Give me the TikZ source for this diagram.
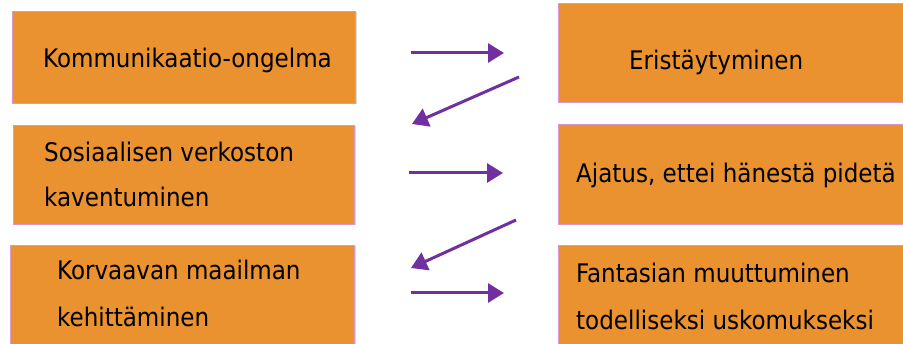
\documentclass[tikz,border=0pt]{standalone}
\usepackage{fontspec}
\setmainfont{DejaVu Sans Condensed}
\usetikzlibrary{arrows.meta}
\definecolor{boxfill}{RGB}{234,145,48}
\definecolor{boxline}{RGB}{220,150,205}
\definecolor{arrowpurple}{RGB}{112,48,160}
\tikzset{
  stepbox/.style={draw=boxline, line width=1pt, fill=boxfill, rectangle,
    anchor=north west, inner sep=0pt, minimum height=98pt},
  boxshadow/.style={fill=black!15, draw=none},
  label/.style={anchor=base west, inner sep=0pt, font=\fontsize{25.6}{30}\selectfont, text=black},
  flow/.style={draw=arrowpurple, line width=3pt,
    -{Triangle[length=16pt,width=19pt]}},
}
\begin{document}
\begin{tikzpicture}[x=1pt,y=-1pt]
  \useasboundingbox (0,0) rectangle (903,344);
  \clip (0,0) rectangle (903,344);
  \fill[white] (0,0) rectangle (903,344);

  % soft shadows under the boxes
  \foreach \x/\y/\w/\h in {12/11/343/92, 13/125/341/99, 10/245/344/120,
                           558/3/360/99, 558/124/360/100, 558/245/360/120}
    \fill[boxshadow] (\x+1.5,\y+1.5) rectangle (\x+\w+1.5,\y+\h+1.5);

  % left column
  \node[stepbox, minimum width=343pt, minimum height=92pt] (l1) at (12,11) {};
  \node[stepbox, minimum width=341pt, minimum height=99pt] (l2) at (13,125) {};
  \node[stepbox, minimum width=344pt, minimum height=120pt] (l3) at (10,245) {};
  % right column
  \node[stepbox, minimum width=360pt, minimum height=99pt] (r1) at (558,3) {};
  \node[stepbox, minimum width=360pt, minimum height=100pt] (r2) at (558,124) {};
  \node[stepbox, minimum width=360pt, minimum height=120pt] (r3) at (558,245) {};

  % texts
  \node[label] (t1) at (43,68) {Kommunikaatio-ongelma};
  \node[label] (t2) at (629,70) {Eristäytyminen};
  \node[label] (t3a) at (44,162) {Sosiaalisen verkoston};
  \node[label] (t3b) at (44,207) {kaventuminen};
  \node[label] (t4) at (576,183) {Ajatus, ettei hänestä pidetä};
  \node[label] (t5a) at (57,280) {Korvaavan maailman};
  \node[label] (t5b) at (57,327) {kehittäminen};
  \node[label] (t6a) at (576,283) {Fantasian muuttuminen};
  \node[label] (t6b) at (576,330) {todelliseksi uskomukseksi};

  % arrow end points between the columns
  \coordinate (a1s) at (411,53);  \coordinate (a1e) at (504,53);
  \coordinate (a2s) at (519,77);  \coordinate (a2e) at (412,124);
  \coordinate (a3s) at (409,173); \coordinate (a3e) at (503,173);
  \coordinate (a4s) at (516,220); \coordinate (a4e) at (411,268);
  \coordinate (a5s) at (411,293); \coordinate (a5e) at (504,293);

  \draw[flow] (a1s) -- (a1e);
  \draw[flow] (a2s) -- (a2e);
  \draw[flow] (a3s) -- (a3e);
  \draw[flow] (a4s) -- (a4e);
  \draw[flow] (a5s) -- (a5e);
\end{tikzpicture}
\end{document}
